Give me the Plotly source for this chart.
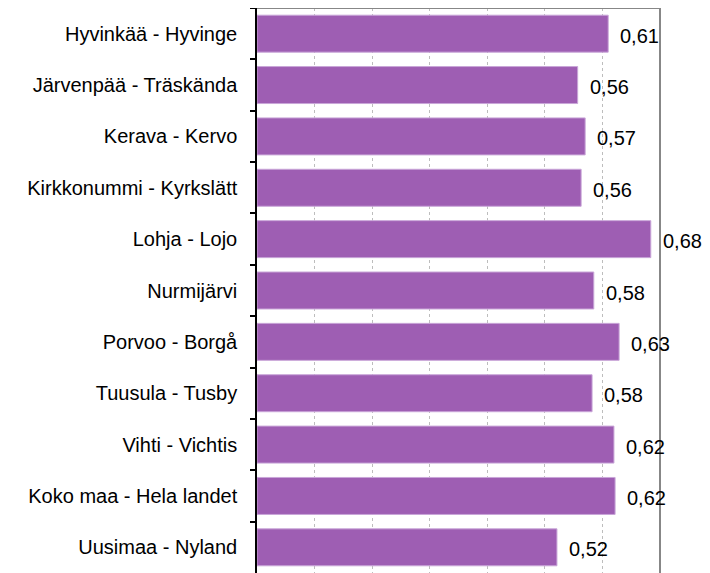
import plotly.graph_objects as go

categories = [
    "Hyvinkää - Hyvinge", "Järvenpää - Träskända", "Kerava - Kervo",
    "Kirkkonummi - Kyrkslätt", "Lohja - Lojo", "Nurmijärvi",
    "Porvoo - Borgå", "Tuusula - Tusby", "Vihti - Vichtis",
    "Koko maa - Hela landet", "Uusimaa - Nyland",
]
values = [0.61, 0.557, 0.570, 0.563, 0.684, 0.585, 0.629, 0.582, 0.620, 0.622, 0.521]
labels = ["0,61", "0,56", "0,57", "0,56", "0,68", "0,58", "0,63", "0,58", "0,62", "0,62", "0,52"]

FONT = "Liberation Sans, Arial, sans-serif"

fig = go.Figure(go.Bar(
    x=values, y=categories, orientation="h",
    marker=dict(color="#9E5EB3", line=dict(color="#C9A6D8", width=1)),
    width=0.72,
    hoverinfo="skip",
))

for c, v, t in zip(categories, values, labels):
    fig.add_annotation(x=v, y=c, text=t, showarrow=False, xanchor="left",
                       xshift=11, yshift=-2, borderpad=0,
                       font=dict(family=FONT, size=20, color="#000000"))

fig.add_shape(type="line", xref="x domain", yref="y domain", x0=0, x1=1, y0=1, y1=1,
              line=dict(color="#878787", width=2))
fig.add_shape(type="line", xref="x domain", yref="y domain", x0=1, x1=1, y0=0, y1=1,
              line=dict(color="#878787", width=2))

fig.update_layout(
    width=702, height=565,
    margin=dict(l=249, r=50, t=0, b=0),
    paper_bgcolor="white", plot_bgcolor="white",
    showlegend=False,
    font=dict(family=FONT, size=20, color="#000000"),
    xaxis=dict(range=[0, 0.7], dtick=0.1, showticklabels=False, showgrid=True,
               gridcolor="#BDBDBD", griddash="dot", gridwidth=1, zeroline=False,
               showline=False, ticks=""),
    yaxis=dict(autorange=False, range=[10.5, -0.5], type="category",
               showline=True, linecolor="#000000", linewidth=1.5,
               ticks="outside", tickson="boundaries", ticklen=5, tickcolor="#000000",
               tickwidth=1.5, ticklabelstandoff=14, showgrid=False,
               tickfont=dict(family=FONT, size=20, color="#000000")),
)

fig.write_html("out.html")
